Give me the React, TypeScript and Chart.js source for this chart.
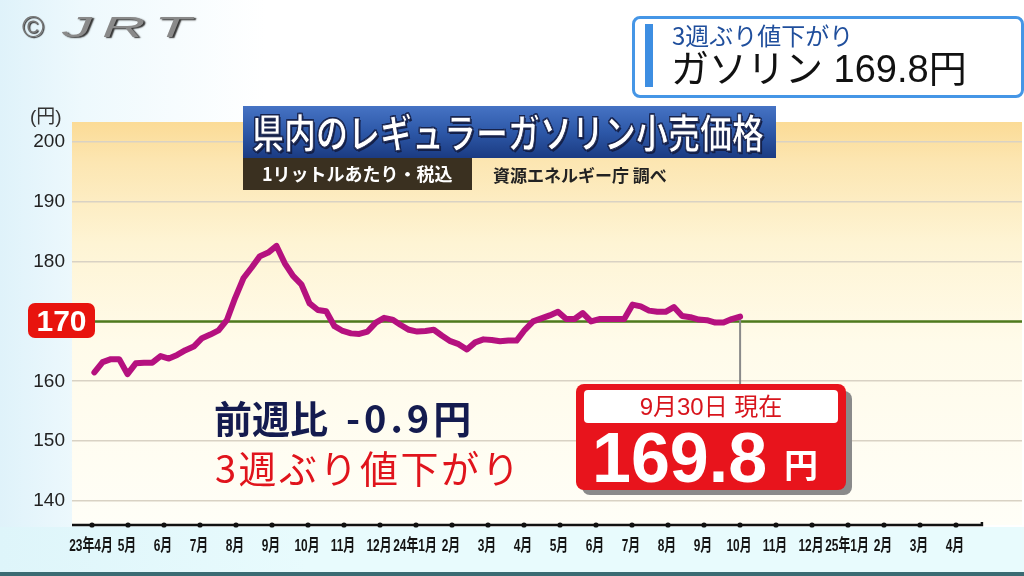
import React, { useEffect, useRef } from "react";
import { Chart, registerables } from "chart.js";

Chart.register(...registerables);

const xLabels = [
  "23年4月", "5月", "6月", "7月", "8月", "9月", "10月", "11月", "12月",
  "24年1月", "2月", "3月", "4月", "5月", "6月", "7月", "8月", "9月", "10月", "11月", "12月",
  "25年1月", "2月", "3月", "4月",
];
const yTicks = [140, 150, 160, 170, 180, 190, 200];
// weekly regular gasoline price (yen / litre), Mondays from 2023-04-03 to 2024-09-30
const prices = [
  161.5, 163.2, 163.7, 163.7, 161.2, 163.0, 163.1, 163.1, 164.2, 163.8,
  164.4, 165.2, 165.8, 167.2, 167.8, 168.5, 170.2, 173.9, 177.2, 179.0,
  180.9, 181.5, 182.6, 179.7, 177.6, 176.2, 173.0, 171.9, 171.7, 169.2,
  168.4, 168.0, 167.9, 168.3, 169.8, 170.6, 170.3, 169.4, 168.6, 168.3,
  168.4, 168.6, 167.6, 166.7, 166.2, 165.3, 166.5, 167.0, 166.9, 166.7,
  166.8, 166.8, 168.6, 170.0, 170.5, 171.0, 171.6, 170.4, 170.4, 171.4,
  170.0, 170.4, 170.4, 170.4, 170.4, 172.8, 172.5, 171.8, 171.6, 171.6,
  172.4, 170.9, 170.7, 170.3, 170.2, 169.8, 169.8, 170.4, 170.8,
];
const firstWeekDay = 2; // 2023-04-03 counted from 2023-04-01
const daysPerMonth = 30.44;
const refLine = 170;

const CJK = '"Noto Sans CJK JP", sans-serif';
const LATIN_CJK = '"Liberation Sans", "Noto Sans CJK JP", sans-serif';

const decoPlugin = {
  id: "deco",
  beforeDraw(chart: any) {
    const { ctx, chartArea: a } = chart;
    const g = ctx.createLinearGradient(0, a.top, 0, a.bottom);
    g.addColorStop(0, "#fbdb96");
    g.addColorStop(0.1, "#fce6b2");
    g.addColorStop(0.3, "#fef4d4");
    g.addColorStop(0.55, "#fffbea");
    g.addColorStop(1, "#fffef7");
    ctx.save();
    ctx.fillStyle = g;
    ctx.fillRect(a.left, a.top, a.right - a.left, a.bottom - a.top);
    ctx.restore();
  },
  beforeDatasetsDraw(chart: any) {
    const { ctx, chartArea: a, scales } = chart;
    const y170 = scales.y.getPixelForValue(refLine);
    ctx.save();
    ctx.strokeStyle = "#4e7a1c";
    ctx.lineWidth = 2.5;
    ctx.beginPath();
    ctx.moveTo(a.left, y170);
    ctx.lineTo(a.right, y170);
    ctx.stroke();
    // leader line from last point to the callout
    const meta = chart.getDatasetMeta(0);
    const last = meta.data[meta.data.length - 1];
    ctx.strokeStyle = "#8a8a8a";
    ctx.lineWidth = 2;
    ctx.beginPath();
    ctx.moveTo(last.x, last.y);
    ctx.lineTo(last.x, 390);
    ctx.stroke();
    ctx.restore();
  },
  afterDraw(chart: any) {
    const { ctx, chartArea: a, scales } = chart;
    const xs = scales.x;
    ctx.save();
    ctx.strokeStyle = "#111";
    ctx.lineWidth = 2.5;
    const endX = xs.getPixelForValue(xLabels.length - 1 + 0.72);
    ctx.beginPath();
    ctx.moveTo(a.left, a.bottom);
    ctx.lineTo(endX, a.bottom);
    ctx.lineTo(endX, a.bottom - 3);
    ctx.stroke();
    ctx.fillStyle = "#111";
    xLabels.forEach((_, i) => {
      ctx.beginPath();
      ctx.arc(xs.getPixelForValue(i), a.bottom, 2.6, 0, Math.PI * 2);
      ctx.fill();
    });
    // condensed month labels
    ctx.fillStyle = "#151515";
    ctx.font = 'bold 17px "Liberation Sans", "Noto Sans CJK JP", sans-serif';
    ctx.textAlign = "center";
    ctx.textBaseline = "middle";
    xLabels.forEach((lab, i) => {
      ctx.save();
      ctx.translate(xs.getPixelForValue(i) - 1, a.bottom + 21);
      ctx.scale(0.7, 1);
      ctx.fillText(lab, 0, 0);
      ctx.restore();
    });
    ctx.restore();
  },
};

function PriceChart() {
  const ref = useRef<HTMLCanvasElement | null>(null);
  useEffect(() => {
    if (!ref.current) return;
    const pts = prices.map((v, i) => ({ x: (firstWeekDay + 7 * i) / daysPerMonth, y: v }));
    const chart = new Chart(ref.current, {
      type: "line",
      data: {
        datasets: [
          {
            data: pts,
            borderColor: "#b5117f",
            borderWidth: 6,
            pointRadius: 0,
            tension: 0,
            borderJoinStyle: "round",
            borderCapStyle: "round",
          },
        ],
      },
      options: {
        animation: false,
        responsive: false,
        events: [],
        layout: { padding: { top: 122, right: 2, left: 0, bottom: 0 } },
        plugins: { legend: { display: false }, tooltip: { enabled: false } },
        scales: {
          x: {
            type: "linear",
            min: -20 / 36,
            max: 930 / 36,
            afterBuildTicks: (s: any) => {
              s.ticks = xLabels.map((_, i) => ({ value: i }));
            },
            afterFit: (s: any) => {
              s.height = 51;
            },
            grid: { display: false, drawTicks: false },
            border: { display: false },
            ticks: { display: false },
          },
          y: {
            min: 136,
            max: 203.3,
            afterBuildTicks: (s: any) => {
              s.ticks = yTicks.map((v) => ({ value: v }));
            },
            afterFit: (s: any) => {
              s.width = 72;
            },
            grid: { color: "#d9d2c4", lineWidth: 1.6, drawTicks: false },
            border: { display: false },
            ticks: {
              padding: 7,
              color: "#222",
              font: { family: '"Liberation Sans", sans-serif', size: 19 },
              callback: (v: any) => (v === refLine ? "" : String(v)),
            },
          },
        },
      },
      plugins: [decoPlugin],
    } as any);
    return () => chart.destroy();
  }, []);
  return <canvas ref={ref} width={1024} height={576} style={{ position: "absolute", left: 0, top: 0 }} />;
}

const abs = (o: React.CSSProperties): React.CSSProperties => ({ position: "absolute", whiteSpace: "nowrap", ...o });

export default function App() {
  return (
    <div
      style={{
        position: "absolute",
        left: 0,
        top: 0,
        width: 1024,
        height: 576,
        overflow: "hidden",
        background: "linear-gradient(90deg, #dff2fa 0%, #eef9fd 8%, #ffffff 26%)",
        fontFamily: CJK,
      }}
    >
      <div style={abs({ left: 0, top: 527, width: 1024, height: 45, background: "linear-gradient(90deg,#def5fa,#e8fbfd 30%)" })} />
      <div style={abs({ left: 0, top: 572, width: 1024, height: 4, background: "#3b6b73" })} />
      <PriceChart />

      {/* logo */}
      <div style={abs({ left: 22, top: 10, fontFamily: LATIN_CJK, fontSize: 30, color: "#777", textShadow: "1px 1px 1px #333" })}>©</div>
      <div
        style={abs({
          left: 62,
          top: 10,
          fontFamily: '"Liberation Sans", sans-serif',
          fontSize: 30,
          fontStyle: "italic",
          letterSpacing: 5,
          color: "#8a8a8a",
          textShadow: "1px 1px 1px #333",
          transform: "scaleX(2)",
          transformOrigin: "left top",
        })}
      >
        JRT
      </div>

      {/* top right caption */}
      <div
        style={abs({
          left: 632,
          top: 16,
          width: 386,
          height: 76,
          border: "3px solid #4596e6",
          borderRadius: 8,
          background: "#fff",
        })}
      />
      <div style={abs({ left: 645, top: 24, width: 8, height: 63, background: "#3d8ee2" })} />
      <div style={abs({ left: 672, top: 20, fontSize: 24, color: "#1f4e9c", lineHeight: "30px" })}>3週ぶり値下がり</div>
      <div style={abs({ left: 671, top: 46, fontSize: 38, color: "#111", fontFamily: LATIN_CJK, lineHeight: "46px" })}>
        ガソリン 169.8円
      </div>

      {/* title */}
      <div
        style={abs({
          left: 243,
          top: 106,
          width: 533,
          height: 52,
          background: "linear-gradient(180deg,#4673c4 0%,#2d58a8 50%,#1b3b82 100%)",
        })}
      />
      <div
        style={abs({
          left: 252,
          top: 104,
          fontSize: 40,
          lineHeight: "54px",
          fontWeight: "bold",
          color: "#fff",
          transform: "scaleX(0.8)",
          transformOrigin: "left top",
          WebkitTextStroke: "1px #1a2550",
          textShadow: "2px 2px 0 #142048, -1px -1px 0 #142048, 1px -1px 0 #142048, -1px 1px 0 #142048",
        })}
      >
        県内のレギュラーガソリン小売価格
      </div>
      <div style={abs({ left: 243, top: 158, width: 229, height: 32, background: "#3a3020" })} />
      <div style={abs({ left: 262, top: 158, fontSize: 18, lineHeight: "30px", fontWeight: "bold", color: "#fff" })}>
        1リットルあたり・税込
      </div>
      <div style={abs({ left: 493, top: 161, fontSize: 17, lineHeight: "28px", fontWeight: "bold", color: "#222" })}>
        資源エネルギー庁 調べ
      </div>

      {/* unit */}
      <div style={abs({ left: 30, top: 104, fontSize: 19, color: "#333", lineHeight: "26px", fontFamily: LATIN_CJK })}>(円)</div>

      {/* 170 badge */}
      <div
        style={abs({
          left: 28,
          top: 303,
          width: 67,
          height: 35,
          borderRadius: 7,
          background: "#e8140e",
          color: "#fff",
          fontFamily: '"Liberation Sans", sans-serif',
          fontWeight: "bold",
          fontSize: 30,
          lineHeight: "35px",
          textAlign: "center",
        })}
      >
        170
      </div>

      {/* comments */}
      <div style={abs({ left: 214, top: 392, fontSize: 38, lineHeight: "50px", fontWeight: "bold", color: "#141b4f" })}>
        前週比
        <span style={{ marginLeft: 18, letterSpacing: 4 }}>-0.9円</span>
      </div>
      <div style={abs({ left: 215, top: 442, fontSize: 38, lineHeight: "50px", letterSpacing: 2.5, color: "#e0141c" })}>
        3週ぶり値下がり
      </div>

      {/* callout */}
      <div style={abs({ left: 582, top: 391, width: 270, height: 104, borderRadius: 8, background: "#8a8a8a" })} />
      <div style={abs({ left: 576, top: 384, width: 270, height: 106, borderRadius: 8, background: "#e8141c" })} />
      <div style={abs({ left: 584, top: 390, width: 254, height: 33, borderRadius: 4, background: "#fff" })} />
      <div
        style={abs({
          left: 584,
          top: 390,
          width: 254,
          height: 33,
          textAlign: "center",
          fontSize: 24,
          lineHeight: "33px",
          color: "#d8141c",
          fontFamily: LATIN_CJK,
        })}
      >
        9月30日 現在
      </div>
      <div
        style={abs({
          left: 592,
          top: 420,
          fontFamily: '"Liberation Sans", sans-serif',
          fontWeight: "bold",
          fontSize: 70,
          lineHeight: "76px",
          color: "#fff",
        })}
      >
        169.8
      </div>
      <div style={abs({ left: 784, top: 442, fontSize: 34, lineHeight: "44px", fontWeight: "bold", color: "#fff" })}>円</div>
    </div>
  );
}
